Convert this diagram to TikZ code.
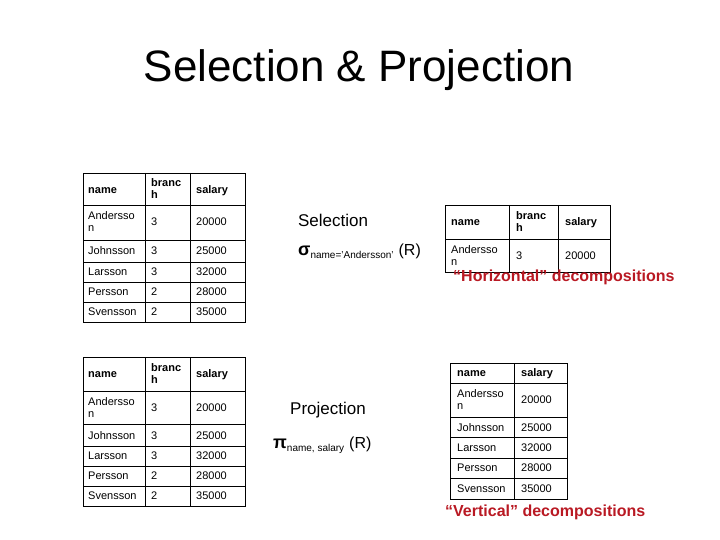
\documentclass[tikz,border=0pt]{standalone}
\usepackage{fontspec}
\setmainfont{Liberation Sans}
\definecolor{redtxt}{RGB}{185,25,35}
\tikzset{cell/.style={anchor=west,align=left,inner sep=0pt,font=\fontsize{11}{12}\selectfont},
 hcell/.style={cell,font=\fontsize{11}{12}\selectfont\bfseries},
 grid/.style={draw=black,line width=0.9pt}}
\begin{document}
\begin{tikzpicture}[x=1pt,y=-1pt]
\useasboundingbox (0,0) rectangle (720,540);
\node (title) at (359,70) {\fontsize{44}{48}\selectfont Selection \& Projection};
% table 1
\draw[grid] (83,173) rectangle (245,322);
\foreach \y in {205,240,262,282,302} \draw[grid] (83,\y) -- (245,\y);
\foreach \x in {145,190} \draw[grid] (\x,173) -- (\x,322);
\node[hcell] (a0) at (88,191) {name};
\node[hcell] (a1) at (151,189) {branc\\h};
\node[hcell] (a2) at (196,191) {salary};
\foreach \n/\b/\s/\y [count=\i] in {Andersso\\n/3/20000/222,Johnsson/3/25000/251,Larsson/3/32000/272,Persson/2/28000/292,Svensson/2/35000/312}{
 \node[cell] (an\i) at (88,\y) {\n};
 \node[cell] (ab\i) at (151,\y) {\b};
 \node[cell] (as\i) at (196,\y) {\s};}
% table 2
\draw[grid] (83,357) rectangle (245,506);
\foreach \y in {391,424,446,466,486} \draw[grid] (83,\y) -- (245,\y);
\foreach \x in {145,190} \draw[grid] (\x,357) -- (\x,506);
\node[hcell] (b0) at (88,375) {name};
\node[hcell] (b1) at (151,374) {branc\\h};
\node[hcell] (b2) at (196,375) {salary};
\foreach \n/\b/\s/\y [count=\i] in {Andersso\\n/3/20000/408,Johnsson/3/25000/436,Larsson/3/32000/456,Persson/2/28000/476,Svensson/2/35000/496}{
 \node[cell] (bn\i) at (88,\y) {\n};
 \node[cell] (bb\i) at (151,\y) {\b};
 \node[cell] (bs\i) at (196,\y) {\s};}
% table 3
\draw[grid] (445,205) rectangle (610,272);
\draw[grid] (445,239) -- (610,239);
\foreach \x in {509,558} \draw[grid] (\x,205) -- (\x,272);
\node[hcell] (c0) at (451,223) {name};
\node[hcell] (c1) at (516,222) {branc\\h};
\node[hcell] (c2) at (565,223) {salary};
\node[cell] (cn1) at (451,256) {Andersso\\n};
\node[cell] (cb1) at (516,256) {3};
\node[cell] (cs1) at (565,256) {20000};
% table 4
\draw[grid] (450,363) rectangle (567,499);
\foreach \y in {383,417,437,458,478} \draw[grid] (450,\y) -- (567,\y);
\draw[grid] (514,363) -- (514,499);
\node[hcell] (d0) at (457,374) {name};
\node[hcell] (d2) at (521,374) {salary};
\foreach \n/\s/\y [count=\i] in {Andersso\\n/20000/400,Johnsson/25000/428,Larsson/32000/448,Persson/28000/468,Svensson/35000/489}{
 \node[cell] (dn\i) at (457,\y) {\n};
 \node[cell] (ds\i) at (521,\y) {\s};}
% labels
\node (sel) at (333,220) {\fontsize{17}{18}\selectfont Selection};
\node[anchor=west,inner sep=0pt] (sigma) at (298,251) {\fontsize{18}{20}\selectfont\bfseries σ\mdseries\raisebox{-3pt}{\fontsize{10}{12}\selectfont name='Andersson'} {\fontsize{16}{18}\selectfont (R)}};
\node (proj) at (328,410) {\fontsize{17}{18}\selectfont Projection};
\node[anchor=west,inner sep=0pt] (pi) at (273,445) {\fontsize{18}{20}\selectfont\bfseries π\mdseries\raisebox{-3pt}{\fontsize{10}{12}\selectfont name, salary} {\fontsize{16}{18}\selectfont (R)}};
\node[anchor=west,inner sep=0pt,text=redtxt] (hor) at (453,277) {\fontsize{16}{18}\selectfont\bfseries “Horizontal” decompositions};
\node[anchor=west,inner sep=0pt,text=redtxt] (ver) at (445,512) {\fontsize{16}{18}\selectfont\bfseries “Vertical” decompositions};
\end{tikzpicture}
\end{document}
